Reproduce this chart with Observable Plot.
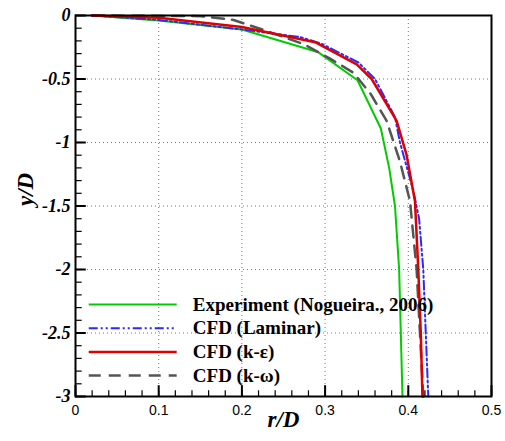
<!DOCTYPE html>
<html><head><meta charset="utf-8">
<script src="https://cdn.jsdelivr.net/npm/d3@7"></script>
<script src="https://cdn.jsdelivr.net/npm/@observablehq/plot@0.6"></script>
<style>
body{margin:0;background:#fff;}
#chart svg{display:block;}
</style>
</head><body><div id="chart"></div>
<script>
// Series: [r/D, y/D]
const experiment = [[0.02,0],[0.1,-0.04],[0.2,-0.11],[0.292,-0.29],[0.339,-0.51],[0.367,-0.89],[0.377,-1.2],[0.384,-1.5],[0.389,-2.0],[0.391,-2.5],[0.393,-3]];
const laminar = [[0.02,0],[0.1,-0.035],[0.2,-0.11],[0.27,-0.17],[0.295,-0.22],[0.34,-0.37],[0.36,-0.5],[0.384,-0.8],[0.39,-1.0],[0.406,-1.38],[0.413,-1.6],[0.418,-2.0],[0.421,-2.5],[0.424,-3]];
const kEpsilon = [[0.02,0],[0.1,-0.018],[0.2,-0.09],[0.288,-0.21],[0.338,-0.385],[0.356,-0.5],[0.386,-0.83],[0.398,-1.1],[0.408,-1.46],[0.412,-2.0],[0.415,-2.5],[0.417,-3]];
const kOmega = [[0.02,0],[0.15,-0.005],[0.19,-0.035],[0.22,-0.1],[0.246,-0.16],[0.274,-0.225],[0.306,-0.34],[0.334,-0.45],[0.355,-0.62],[0.374,-0.83],[0.39,-1.15],[0.402,-1.46],[0.41,-2.0],[0.414,-2.5],[0.418,-3]];

const seriesNames = ["Experiment (Nogueira., 2006)","CFD (Laminar)","CFD (k-\u03b5)","CFD (k-\u03c9)"];
const xTicks = [0,0.1,0.2,0.3,0.4,0.5];
const yTicks = [0,-0.5,-1,-1.5,-2,-2.5,-3];
const xMinor = d3.range(0,0.5001,0.02);
const yMinor = d3.range(0,-3.0001,-0.1);

const styles = [
  {stroke:"#00cc00", strokeWidth:2, dash:null},
  {stroke:"#2a2aff", strokeWidth:2, dash:"9,3,2,3,2,3"},
  {stroke:"#dd0000", strokeWidth:2.5, dash:null},
  {stroke:"#555555", strokeWidth:2.5, dash:"12,8"}
];
const allSeries = [experiment, laminar, kEpsilon, kOmega];
const drawOrder = [0,3,1,2];

// legend layout (data space)
const legend = seriesNames.map((name,i)=>({name, i, y: -2.276 - i*0.1865}));

const serif = "'Liberation Serif',serif";
const sans = "'Liberation Sans',sans-serif";

const marks = [
  Plot.gridX(xTicks.slice(1,-1), {stroke:"#777", strokeOpacity:1, strokeDasharray:"1,3", strokeWidth:1}),
  Plot.gridY(yTicks.slice(1,-1), {stroke:"#777", strokeOpacity:1, strokeDasharray:"1,3", strokeWidth:1}),
  ...drawOrder.map(k => Plot.line(allSeries[k], {x:d=>d[0], y:d=>d[1], stroke:styles[k].stroke, strokeWidth:styles[k].strokeWidth, strokeDasharray:styles[k].dash, curve:"linear"})),
  // legend
  ...legend.map(L => Plot.ruleY([L], {x1:0.0165, x2:0.1222, y:"y", stroke:styles[L.i].stroke, strokeWidth:styles[L.i].strokeWidth, strokeDasharray:styles[L.i].dash})),
  Plot.text(legend, {x:()=>0.141, y:"y", text:"name", textAnchor:"start", fontFamily:serif, fontWeight:"bold", fontSize:19, fill:"#000"}),
  // inward ticks
  Plot.ruleX(xMinor, {x:d=>d, y1:-3, y2:-3+0.045, stroke:"#000", strokeWidth:1.2}),
  Plot.ruleX(xTicks, {x:d=>d, y1:-3, y2:-3+0.085, stroke:"#000", strokeWidth:2}),
  Plot.ruleY(yMinor, {y:d=>d, x1:0, x2:0.008, stroke:"#000", strokeWidth:1.2}),
  Plot.ruleY(yTicks, {y:d=>d, x1:0, x2:0.013, stroke:"#000", strokeWidth:2}),
  Plot.frame({stroke:"#000", strokeWidth:2}),
  // tick labels
  Plot.text(xTicks, {x:d=>d, frameAnchor:"bottom", dy:9, lineAnchor:"top", text:d=>String(d), fontFamily:sans, fontSize:14, fill:"#000"}),
  Plot.text(yTicks, {y:d=>d, frameAnchor:"left", dx:-5, textAnchor:"end", text:d=>String(d), fontFamily:serif, fontSize:18, fontWeight:"bold", fontStyle:"italic", fill:"#000"}),
  Plot.text(["y/D"], {frameAnchor:"left", dx:-50, rotate:-90, fontFamily:serif, fontWeight:"bold", fontStyle:"italic", fontSize:23, fill:"#000"}),
  Plot.text(["r/D"], {frameAnchor:"bottom", dy:30, fontFamily:serif, fontWeight:"bold", fontStyle:"italic", fontSize:23, fill:"#000"})
];

const chart = Plot.plot({
  width:505, height:441,
  marginLeft:75, marginRight:14, marginTop:15, marginBottom:45,
  x:{domain:[0,0.5], axis:null},
  y:{domain:[-3,0], axis:null},
  marks
});
document.getElementById("chart").appendChild(chart);
</script>
</body></html>
